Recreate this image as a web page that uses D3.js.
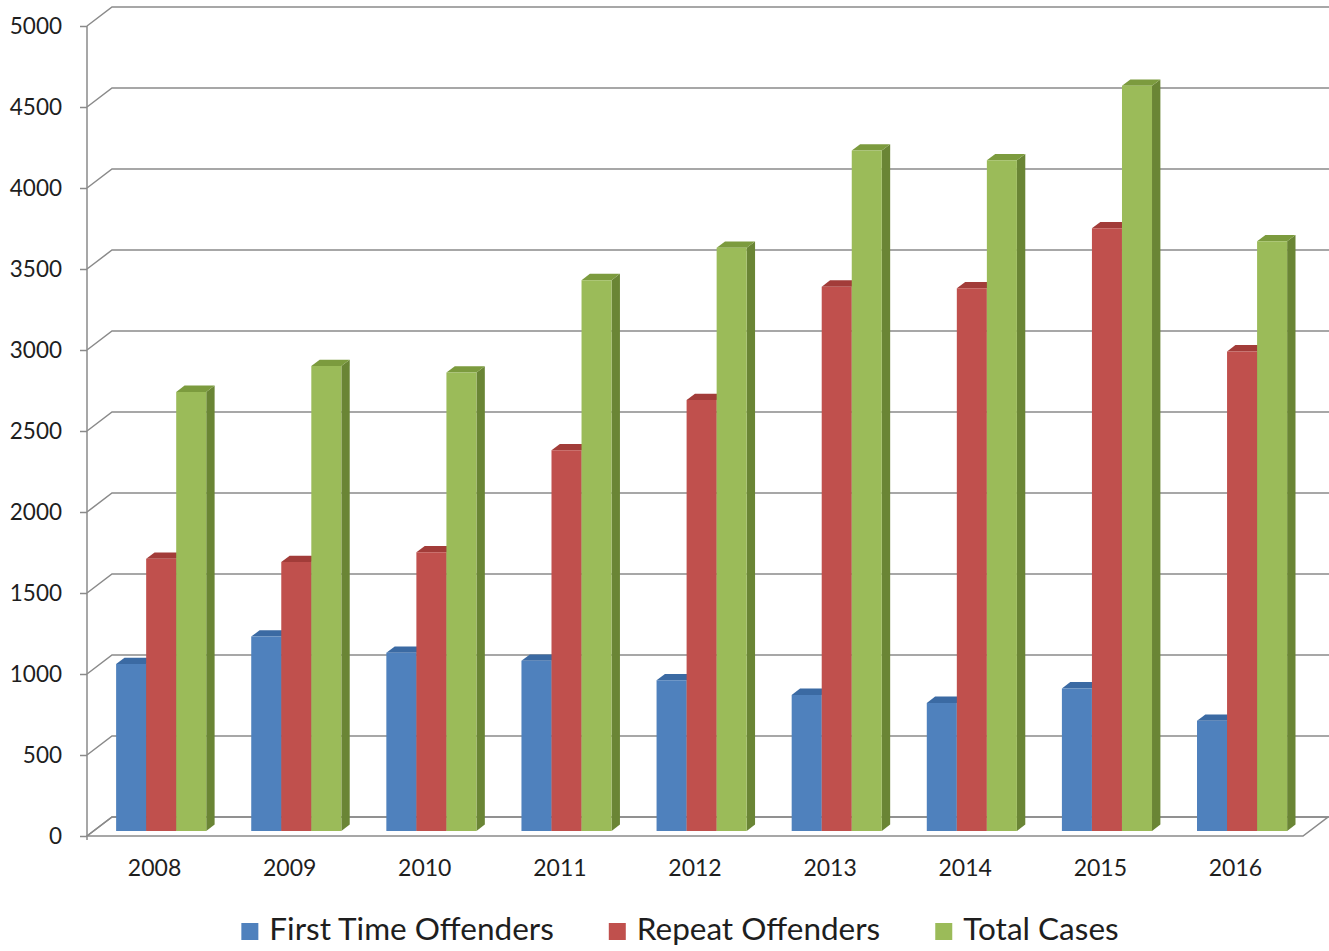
<!DOCTYPE html>
<html>
<head>
<meta charset="utf-8">
<script src="https://cdn.jsdelivr.net/npm/d3@7"></script>
<style>
  html, body { margin: 0; padding: 0; background: #fff; }
  svg { display: block; }
  text { font-family: Lato, "Open Sans", sans-serif; fill: #1e1e1e; }
</style>
</head>
<body>
<div id="chart"></div>
<script>
// chart data
const years = ['2008', '2009', '2010', '2011', '2012', '2013', '2014', '2015', '2016'];
const seriesNames = ['First Time Offenders', 'Repeat Offenders', 'Total Cases'];
const firstTime = [1030, 1200, 1100, 1050, 930, 840, 790, 880, 680];
const repeatOff = [1680, 1660, 1720, 2350, 2660, 3360, 3350, 3720, 2960];
const totalCases = [2710, 2870, 2830, 3400, 3600, 4200, 4140, 4600, 3640];
const yTicks = [0, 500, 1000, 1500, 2000, 2500, 3000, 3500, 4000, 4500, 5000];

const seriesValues = [firstTime, repeatOff, totalCases];
// front, top, side colours for the 3d columns
const palette = [
  { front: '#4F81BD', top: '#3B6AA3', side: '#365E8F' },
  { front: '#C0504D', top: '#A23C39', side: '#8E3532' },
  { front: '#9BBB59', top: '#7C9B3E', side: '#6A8535' }
];

const W = 1329, H = 951;
const plotLeft = 87, plotRight = 1303, plotBottom = 836, plotTop = 26;
// oblique depth: full wall depth moves right and up
const depthX = 25, depthY = -19;
const barFront = 0.265, barBack = 0.6;

const svg = d3.select('#chart').append('svg')
  .attr('width', W).attr('height', H);

const x = d3.scaleBand().domain(years).range([plotLeft, plotRight]).paddingInner(0).paddingOuter(0);
const groupWidth = x.bandwidth() * 0.667;
const xs = d3.scaleBand().domain(seriesNames)
  .range([(x.bandwidth() - groupWidth) / 2, (x.bandwidth() + groupWidth) / 2]);
const y = d3.scaleLinear().domain([0, 5000]).range([plotBottom, plotTop]);

// project a point (screen x at front, value, depth 0..1)
const P = (px, v, z) => [px + z * depthX, y(v) + z * depthY];
const poly = pts => 'M' + pts.map(p => p.join(',')).join('L') + 'Z';

const gridColor = '#8a8a8a';

// floor
svg.append('path')
  .attr('d', poly([P(plotLeft, 0, 0), P(plotRight, 0, 0), P(plotRight, 0, 1), P(plotLeft, 0, 1)]))
  .attr('fill', '#fff')
  .attr('stroke', gridColor)
  .attr('stroke-width', 1.5);

// gridlines on side wall + back wall
const grid = svg.append('g');
yTicks.forEach(t => {
  const a = P(plotLeft, t, 0), b = P(plotLeft, t, 1), c = P(plotRight, t, 1);
  grid.append('path')
    .attr('d', `M${a}L${b}L${c[0] + 2},${c[1]}`)
    .attr('fill', 'none')
    .attr('stroke', gridColor)
    .attr('stroke-width', 1.5);
});

// y axis
const yAxis = svg.append('g')
  .attr('transform', `translate(${plotLeft},0)`)
  .call(d3.axisLeft(y).tickValues(yTicks).tickSize(7).tickPadding(18).tickFormat(d3.format('d')));
yAxis.select('.domain').attr('stroke', gridColor).attr('stroke-width', 1.5)
  .attr('d', `M0,${plotTop}V${plotBottom + 4}`);
yAxis.selectAll('.tick line').attr('stroke', gridColor).attr('stroke-width', 1.5);
yAxis.selectAll('.tick text').style('font-size', '22.5px').attr('fill', '#1e1e1e');

// x axis labels
const xAxis = svg.append('g')
  .attr('transform', `translate(0,${plotBottom})`)
  .call(d3.axisBottom(x).tickSize(0).tickPadding(24));
xAxis.select('.domain').remove();
xAxis.selectAll('.tick text').style('font-size', '23px').attr('fill', '#1e1e1e');

// columns drawn left to right so right neighbours cover side faces
const bars = svg.append('g');
years.forEach((yr, i) => {
  seriesNames.forEach((s, k) => {
    const v = seriesValues[k][i];
    const x0 = x(yr) + xs(s), x1 = x0 + xs.bandwidth();
    const col = palette[k];
    const g = bars.append('g');
    // side face
    g.append('path')
      .attr('d', poly([P(x1, 0, barFront), P(x1, 0, barBack), P(x1, v, barBack), P(x1, v, barFront)]))
      .attr('fill', col.side);
    // top face
    g.append('path')
      .attr('d', poly([P(x0, v, barFront), P(x1, v, barFront), P(x1, v, barBack), P(x0, v, barBack)]))
      .attr('fill', col.top);
    // front face
    g.append('path')
      .attr('d', poly([P(x0, 0, barFront), P(x1, 0, barFront), P(x1, v, barFront), P(x0, v, barFront)]))
      .attr('fill', col.front);
  });
});

// legend
const legend = svg.append('g');
const items = legend.selectAll('g').data(seriesNames).enter().append('g');
items.append('rect').attr('width', 17).attr('height', 17).attr('y', -17)
  .attr('fill', (d, k) => palette[k].front);
items.append('text').attr('x', 28).attr('y', 0)
  .style('font-size', '31.5px').text(d => d);
let cx = 0;
items.each(function () {
  d3.select(this).attr('transform', `translate(${cx},0)`);
  cx += 28 + this.querySelector('text').getComputedTextLength() + 55;
});
const legendWidth = cx - 55;
legend.attr('transform', `translate(${680 - legendWidth / 2},940)`);
</script>
</body>
</html>
